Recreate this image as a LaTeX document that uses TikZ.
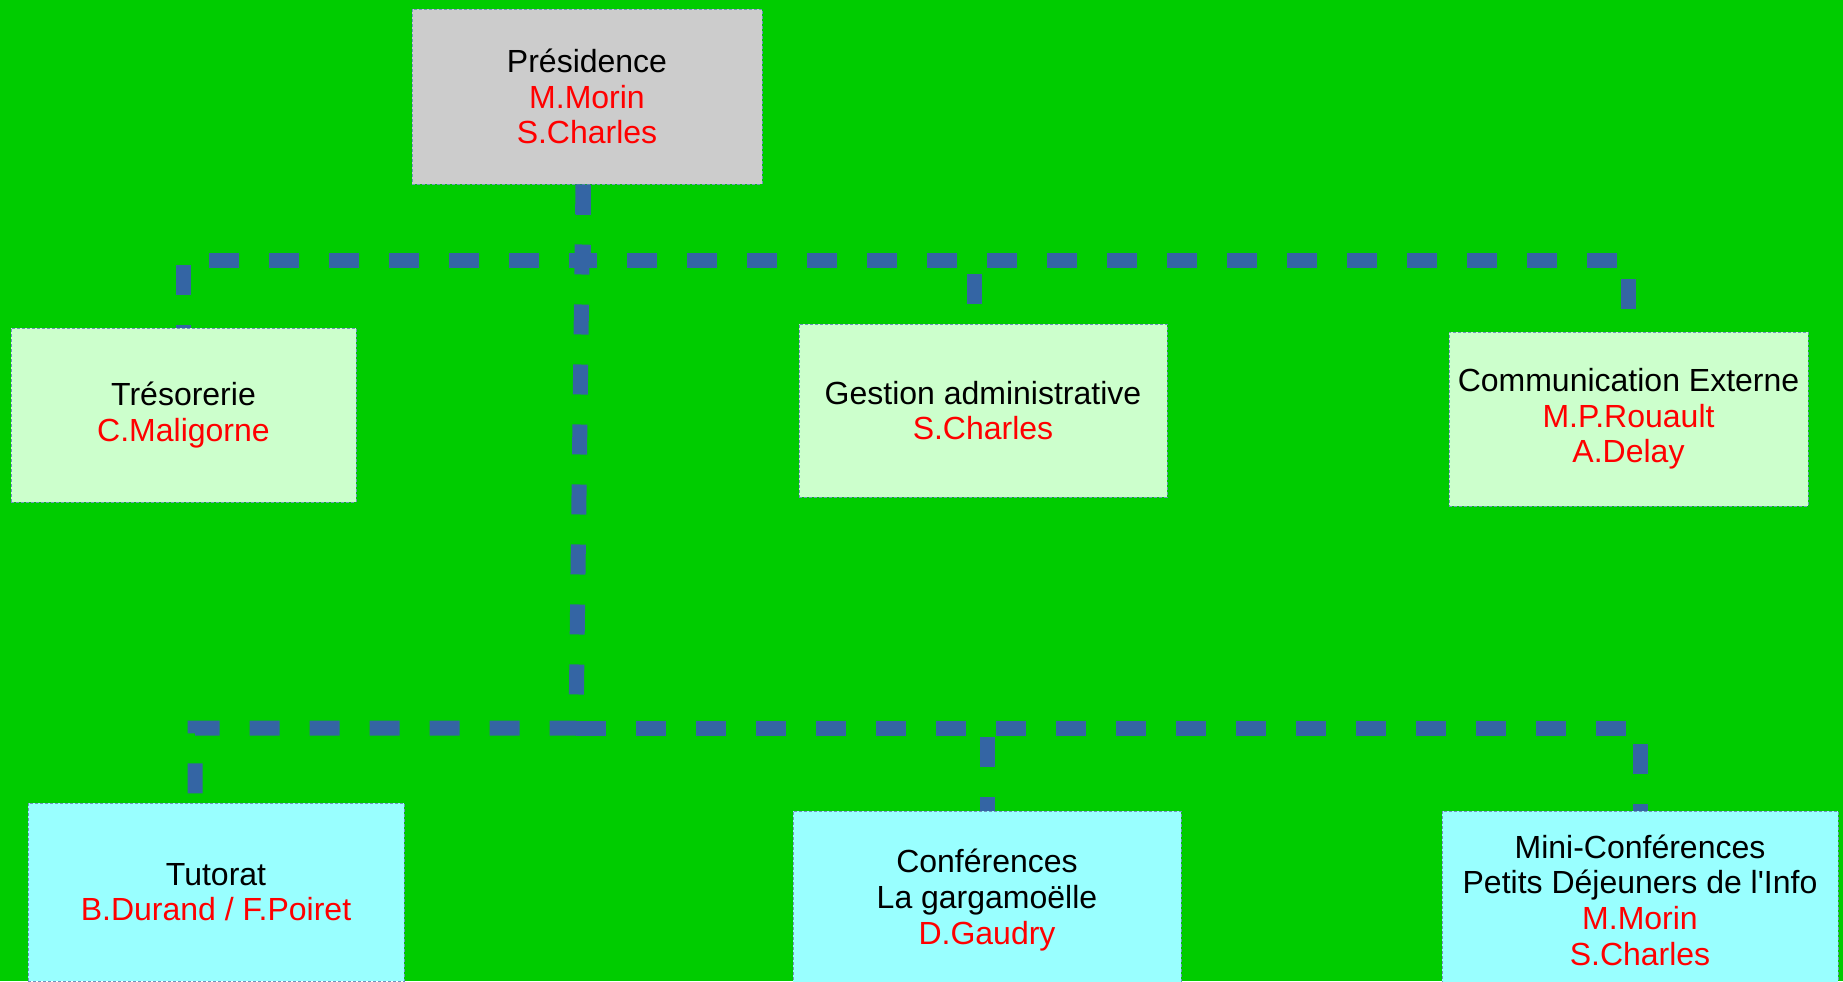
\documentclass[tikz,border=0pt]{standalone}
\usepackage{fontspec}
\newfontfamily\orgfont{Liberation Sans}
\usetikzlibrary{positioning}

\definecolor{bggreen}{HTML}{00CC00}
\definecolor{presgray}{HTML}{CCCCCC}
\definecolor{lightgreen}{HTML}{CCFFCC}
\definecolor{lightcyan}{HTML}{99FFFF}
\definecolor{linkblue}{HTML}{3465A4}
\definecolor{namered}{HTML}{FF0000}

\newcommand{\who}[1]{\textcolor{namered}{#1}}

\begin{document}
\begin{tikzpicture}[
    font=\orgfont\fontsize{16pt}{17.8pt}\selectfont,
    box/.style={rectangle, draw=linkblue!70, line width=0.5pt, dash pattern=on 1.5pt off 1pt, align=center, minimum height=87pt, inner sep=2pt},
    pole/.style={box, fill=presgray},
    unit/.style={box, fill=lightgreen},
    activity/.style={box, fill=lightcyan, minimum height=89pt},
    link/.style={linkblue, line width=7.5pt, dash pattern=on 15pt off 15pt}
]

% Page and background
\useasboundingbox (0,0) rectangle (921.5pt,-490.5pt);
\clip (0,0) rectangle (921.5pt,-490.5pt);
\fill[bggreen] (0,0) rectangle (921.5pt,-490.5pt);

% Top
\node[pole, minimum width=175pt, minimum height=87.5pt] (pres) at (293.5pt,-48.25pt) {Présidence\\ \who{M.Morin}\\ \who{S.Charles}};

% Middle row
\node[unit, minimum width=172.5pt, below left=71.5pt and 27.5pt of pres] (tres) {Trésorerie\\ \who{C.Maligorne}};

\node[unit, minimum width=184pt, minimum height=86.5pt, below right=69.5pt and 18pt of pres] (gest) {Gestion administrative\\ \who{S.Charles}};

\node[unit, minimum width=179.5pt, below right=4pt and 140.5pt of gest.north east] (comm) {Communication Externe\\ \who{M.P.Rouault}\\ \who{A.Delay}};

% Bottom row
\node[activity, minimum width=188pt, below right=150pt and 8.5pt of tres.south west] (tut) {Tutorat\\ \who{B.Durand / F.Poiret}};

\node[activity, minimum width=194pt, below=156.5pt of gest, xshift=2pt] (conf) {Conférences\\ La gargamoëlle\\ \who{D.Gaudry}};

\node[activity, minimum width=198pt, right=130pt of conf] (mini) {Mini-Conférences\\ Petits Déjeuners de l'Info\\ \who{M.Morin}\\ \who{S.Charles}};

% Connectors
\coordinate (top) at ([xshift=-2pt]pres.south);
\coordinate (hub) at (288pt,-364pt);

\draw[link] (top) -- ++(0,-38pt) -| (tres.north);
\draw[link] (top) -- ++(0,-38pt) -| ([xshift=-4.5pt]gest.north);
\draw[link] (top) -- ++(0,-38pt) -| (comm.north);

\draw[link] (top) -- (hub) -| ([xshift=-10.5pt]tut.north);
\draw[link] (hub) -| (conf.north);
\draw[link] (hub) -| (mini.north);

\end{tikzpicture}
\end{document}
